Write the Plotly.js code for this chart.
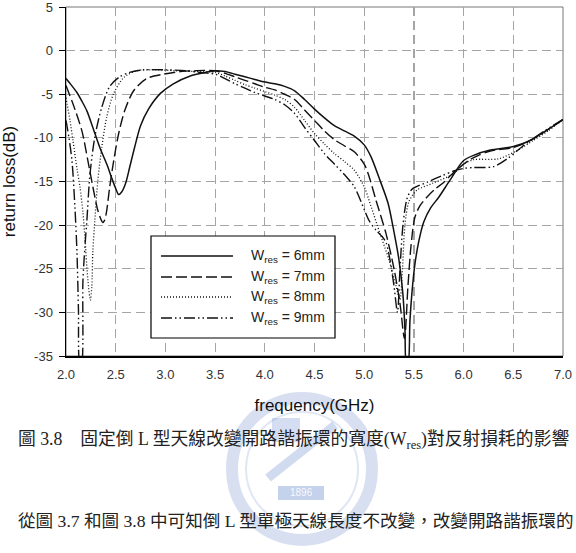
<!DOCTYPE html>
<html><head><meta charset="utf-8">
<script src="https://cdn.plot.ly/plotly-3.0.1.min.js"></script>
<style>body{margin:0;background:#fff}#chart{width:576px;height:553px}</style>
</head><body><div id="chart"></div>
<script>
const seriesNames = ['W<sub>res</sub> = 6mm','W<sub>res</sub> = 7mm','W<sub>res</sub> = 8mm','W<sub>res</sub> = 9mm'];

const freq6 = [2.0,2.05,2.11,2.16,2.21,2.27,2.34,2.41,2.46,2.5,2.53,2.56,2.6,2.64,2.69,2.75,2.83,2.95,3.08,3.25,3.4,3.5,3.6,3.7,3.8,3.9,4.0,4.1,4.2,4.3,4.4,4.5,4.6,4.7,4.8,4.9,5.0,5.07,5.16,5.24,5.3,5.35,5.39,5.41,5.425,5.44,5.46,5.48,5.51,5.55,5.6,5.67,5.75,5.86,6.0,6.1,6.27,6.5,6.67,6.84,7.0];
const rl6 = [-3.2,-3.9,-4.8,-5.8,-6.9,-8.8,-11.1,-13.0,-14.6,-15.8,-16.5,-16.2,-15.2,-13.4,-11.1,-8.6,-6.7,-4.9,-3.8,-2.9,-2.5,-2.3,-2.4,-2.7,-3.0,-3.3,-3.6,-3.8,-4.1,-4.6,-5.6,-6.7,-7.7,-8.6,-9.2,-9.8,-10.8,-12.2,-14.9,-17.5,-20.8,-24,-28,-32,-36,-36,-31,-27.8,-24.5,-21.8,-19.6,-18.0,-16.8,-14.9,-12.6,-12.0,-11.4,-11.0,-10.3,-9.1,-7.9];

const freq7 = [2.0,2.07,2.16,2.22,2.27,2.32,2.35,2.37,2.39,2.41,2.44,2.48,2.53,2.59,2.68,2.81,2.98,3.15,3.3,3.5,3.6,3.7,3.8,3.9,4.0,4.1,4.2,4.3,4.4,4.5,4.6,4.7,4.8,4.9,5.0,5.04,5.12,5.22,5.3,5.36,5.405,5.44,5.47,5.51,5.56,5.63,5.72,5.79,5.88,5.96,6.05,6.15,6.27,6.5,6.67,6.84,7.0];
const rl7 = [-4.0,-6.1,-9.2,-12.6,-15.6,-18.3,-19.3,-19.7,-19.4,-18.3,-15.6,-12.6,-9.5,-6.9,-4.6,-3.2,-2.7,-2.4,-2.3,-2.3,-2.6,-3.0,-3.4,-3.8,-4.2,-4.5,-5.0,-5.6,-6.8,-8.0,-9.2,-10.2,-10.9,-11.6,-13.0,-14.1,-17.2,-21.0,-25.0,-29.0,-33.0,-27.0,-22.5,-19.1,-17.8,-16.8,-15.8,-15.2,-14.2,-13.4,-12.6,-12.0,-11.5,-11.1,-10.3,-9.1,-7.9];

const freq8 = [2.0,2.04,2.07,2.11,2.14,2.17,2.19,2.22,2.245,2.26,2.27,2.29,2.32,2.36,2.41,2.48,2.58,2.71,2.9,3.1,3.3,3.5,3.6,3.7,3.8,3.9,4.0,4.1,4.2,4.3,4.4,4.5,4.6,4.7,4.8,4.9,5.0,5.05,5.16,5.25,5.32,5.36,5.385,5.41,5.45,5.53,5.69,5.9,6.0,6.1,6.35,6.53,6.7,6.85,7.0];
const rl8 = [-5.4,-8.0,-10.3,-13.5,-15.6,-18.5,-21.4,-26.3,-28.6,-27.0,-23.0,-19.5,-14.9,-11.1,-7.6,-4.9,-3.1,-2.3,-2.2,-2.3,-2.4,-2.5,-2.9,-3.4,-3.9,-4.3,-4.7,-5.1,-5.6,-6.5,-8.0,-9.5,-10.7,-11.8,-12.7,-13.7,-15.6,-17.2,-21.0,-24.0,-27.0,-28.5,-25.0,-20.0,-17.3,-16.0,-15.2,-14.1,-13.0,-12.5,-12.4,-11.5,-10.3,-9.2,-7.9];

const freq9 = [2.0,2.03,2.06,2.09,2.11,2.125,2.14,2.155,2.17,2.19,2.21,2.24,2.29,2.36,2.44,2.54,2.64,2.78,3.0,3.2,3.35,3.5,3.6,3.7,3.8,3.9,4.0,4.1,4.2,4.3,4.4,4.5,4.6,4.7,4.8,4.9,5.0,5.05,5.12,5.18,5.22,5.26,5.3,5.335,5.36,5.39,5.43,5.48,5.63,5.79,5.9,6.0,6.1,6.3,6.45,6.6,6.8,7.0];
const rl9 = [-8.0,-10.0,-12.6,-18.0,-23.0,-29.5,-36.0,-36.0,-26.5,-22.5,-19.5,-14.3,-9.9,-6.5,-4.1,-3.0,-2.5,-2.2,-2.2,-2.3,-2.5,-2.7,-3.2,-3.8,-4.3,-4.8,-5.2,-5.6,-6.2,-7.2,-8.8,-10.3,-11.8,-13.0,-14.2,-15.6,-18.2,-19.5,-20.6,-21.3,-22.0,-24.0,-27.0,-30.0,-25.0,-20.0,-17.0,-15.9,-15.1,-14.3,-13.8,-13.5,-13.4,-13.3,-12.3,-10.9,-9.3,-7.9];

const xTickVals = [2.0,2.5,3.0,3.5,4.0,4.5,5.0,5.5,6.0,6.5,7.0];
const xTickText = ['2.0','2.5','3.0','3.5','4.0','4.5','5.0','5.5','6.0','6.5','7.0'];
const yTickVals = [5,0,-5,-10,-15,-20,-25,-30,-35];
const yTickText = ['5','0','-5','-10','-15','-20','-25','-30','-35'];

const captionText = '圖 3.8　固定倒 L 型天線改變開路諧振環的寬度(W<sub>res</sub>)對反射損耗的影響';
const bodyText = '從圖 3.7 和圖 3.8 中可知倒 L 型單極天線長度不改變，改變開路諧振環的';
const logoYear = '1896';

const xs = [freq6, freq7, freq8, freq9];
const ys = [rl6, rl7, rl8, rl9];
const dashes = ['solid', '11px,4px', '1px,2px', '11px,3px,1.5px,3px,1.5px,3px'];
const widths = [1.5, 1.4, 1.3, 1.4];

const traces = xs.map((x, i) => ({
  x: x, y: ys[i], type: 'scatter', mode: 'lines', name: seriesNames[i],
  line: {color: '#111', width: widths[i], dash: dashes[i], shape: 'spline', smoothing: 0.8},
  showlegend: false
}));

const px = X => (X - 66) / 497;
const py = Y => (356 - Y) / 349;
const legendRows = [256, 277, 297, 318];
const shapes = [
  // faint watermark logo (behind text)
  {type:'circle', xref:'paper', yref:'paper', x0:px(232), x1:px(372), y0:py(540), y1:py(398),
   line:{color:'rgba(110,140,205,0.28)', width:12}, fillcolor:'rgba(255,255,255,0)', layer:'below'},
  {type:'circle', xref:'paper', yref:'paper', x0:px(246), x1:px(358), y0:py(526), y1:py(412),
   line:{color:'rgba(110,140,205,0.22)', width:2}, fillcolor:'rgba(255,255,255,0)', layer:'below'},
  {type:'rect', xref:'paper', yref:'paper', x0:px(278), x1:px(324), y0:py(500), y1:py(486),
   line:{width:0}, fillcolor:'rgba(90,125,200,0.35)', layer:'below'},
  {type:'line', xref:'paper', yref:'paper', x0:px(268), x1:px(335), y0:py(478), y1:py(425),
   line:{color:'rgba(90,125,200,0.28)', width:9}, layer:'below'},
  {type:'rect', xref:'paper', yref:'paper', x0:px(272), x1:px(300), y0:py(442), y1:py(418),
   line:{width:0}, fillcolor:'rgba(90,125,200,0.26)', layer:'below'},
  // plot frame
  {type:'rect', xref:'paper', yref:'paper', x0:0, x1:1, y0:0, y1:1, line:{color:'#777', width:1}, layer:'below'},
  // legend box
  {type:'rect', xref:'paper', yref:'paper', x0:px(151), x1:px(335), y0:py(338), y1:py(236), line:{color:'#000', width:1.2}, fillcolor:'#fff', layer:'above'}
];
const annotations = [];
legendRows.forEach((r, i) => {
  shapes.push({type:'line', xref:'paper', yref:'paper', x0:px(161), x1:px(233), y0:py(r), y1:py(r),
    line:{color:'#111', width:widths[i], dash:dashes[i]}, layer:'above'});
  annotations.push({xref:'paper', yref:'paper', x:px(249), y:py(r), xanchor:'left', yanchor:'middle',
    text: seriesNames[i], showarrow:false, font:{family:'Liberation Sans, Arial, sans-serif', size:14, color:'#222'}});
});
annotations.push({xref:'paper', yref:'paper', x:px(301), y:py(493), xanchor:'center', yanchor:'middle',
  text: logoYear, showarrow:false, font:{family:'Liberation Sans, Arial, sans-serif', size:10, color:'rgba(255,255,255,0.9)'}});
annotations.push({xref:'paper', yref:'paper', x:px(16), y:py(440), xanchor:'left', yanchor:'middle',
  text: captionText, showarrow:false, font:{family:'Liberation Serif, Noto Sans CJK TC, serif', size:17.8, color:'#222'}});
annotations.push({xref:'paper', yref:'paper', x:px(16), y:py(521), xanchor:'left', yanchor:'middle',
  text: bodyText, showarrow:false, font:{family:'Liberation Serif, Noto Sans CJK TC, serif', size:17.6, color:'#222'}});

const layout = {
  width: 576, height: 553,
  margin: {l: 66, r: 13, t: 7, b: 197},
  paper_bgcolor: '#fff', plot_bgcolor: '#fff',
  showlegend: false,
  font: {family: 'Liberation Sans, Arial, sans-serif', color: '#222'},
  xaxis: {
    range: [2, 7], tickvals: xTickVals, ticktext: xTickText,
    showline: true, linecolor: '#000', linewidth: 1.5, mirror: false,
    ticks: '', ticklabelstandoff: 6, showgrid: true, gridcolor: '#a5a5a5', gridwidth: 1.2, griddash: '9px,5px',
    zeroline: false, tickfont: {size: 13, color: '#333'},
    title: {text: 'frequency(GHz)', font: {size: 17, color: '#111'}, standoff: 18}
  },
  yaxis: {
    range: [-35, 5], tickvals: yTickVals, ticktext: yTickText,
    showline: true, linecolor: '#000', linewidth: 1.5, mirror: false,
    ticks: 'outside', ticklen: 6, tickcolor: '#000', tickwidth: 1, ticklabelstandoff: 3,
    ticklabeloverflow: 'allow',
    showgrid: true, gridcolor: '#a5a5a5', gridwidth: 1.2, griddash: '9px,5px',
    zeroline: false, tickfont: {size: 13, color: '#333'},
    title: {text: 'return loss(dB)', font: {size: 17, color: '#111'}, standoff: 16}
  },
  shapes: shapes,
  annotations: annotations
};

Plotly.newPlot('chart', traces, layout, {displayModeBar: false, staticPlot: true});
</script>
</body></html>
